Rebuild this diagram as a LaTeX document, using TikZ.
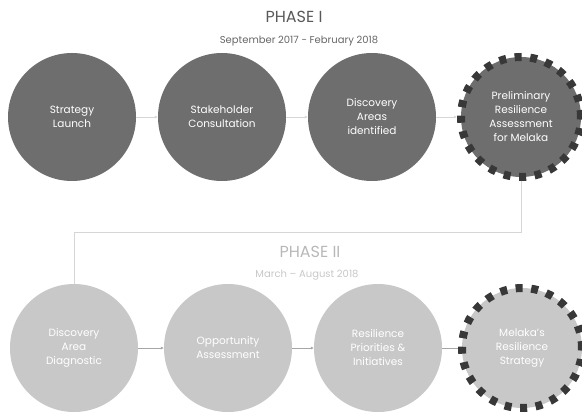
\documentclass[tikz,border=0pt]{standalone}
\usepackage{fontspec}
\setmainfont{Poppins}
\usetikzlibrary{arrows.meta}

\definecolor{darkstep}{HTML}{6E6E6E}
\definecolor{lightstep}{HTML}{C8C8C8}
\definecolor{dotgray}{HTML}{383838}
\definecolor{linegray}{HTML}{D6D6D6}

\tikzset{
  phaseone/.style={circle,fill=darkstep,minimum size=128pt,inner sep=0pt,
    text=white,align=center,font=\fontsize{10.5}{14}\selectfont},
  phasetwo/.style={phaseone,fill=lightstep},
  milestone/.style={draw=dotgray,line width=8pt,dash pattern=on 7pt off 8.6pt,
    minimum size=120pt},
  link/.style={draw=linegray,line width=0.8pt,-{Latex[length=3pt,width=3pt]}},
}

\begin{document}
\begin{tikzpicture}[x=1pt,y=-1pt]
    \useasboundingbox (0,0) rectangle (582,412);

    % phase I
    \node[text=black!65,font=\fontsize{16}{18}\selectfont] (titleone) at (294,17) {PHASE I};
    \node[text=black!60,font=\fontsize{10}{12}\selectfont] (dateone) at (299,41) {September 2017 - February 2018};

    \node[phaseone] (launch) at (72,117) {Strategy\\Launch};
    \node[phaseone] (consult) at (222,117) {Stakeholder\\Consultation};
    \node[phaseone] (areas) at (372,117) {Discovery\\Areas\\identified};
    \node[phaseone,milestone] (prelim) at (521,117) {Preliminary\\Resilience\\Assessment\\for Melaka};

    \draw[link] (launch) -- (consult);
    \draw[link] (consult) -- (areas);
    \draw[link] (areas) -- (prelim);

    % phase II
    \node[text=black!28,font=\fontsize{16}{18}\selectfont] (titletwo) at (310,252) {PHASE II};
    \node[text=black!22,font=\fontsize{10}{12}\selectfont] (datetwo) at (307,275) {March -- August 2018};

    \node[phasetwo] (diag) at (74,348) {Discovery\\Area\\Diagnostic};
    \node[phasetwo] (oppor) at (228,348) {Opportunity\\Assessment};
    \node[phasetwo] (prior) at (378,348) {Resilience\\Priorities \&\\Initiatives};
    \node[phasetwo,milestone] (strat) at (522,348) {Melaka's\\Resilience\\Strategy};

    \draw[link,draw=black!35] (diag) -- (oppor);
    \draw[link,draw=black!35] (oppor) -- (prior);
    \draw[draw=black!35,line width=0.8pt] (prior) -- (strat);

    % between the phases
    \coordinate (turn) at (522,232);
    \draw[draw=linegray,line width=0.8pt] (prelim.south) -- (prelim.south |- turn) -- (turn -| diag.north) -- (diag.north);
\end{tikzpicture}
\end{document}
